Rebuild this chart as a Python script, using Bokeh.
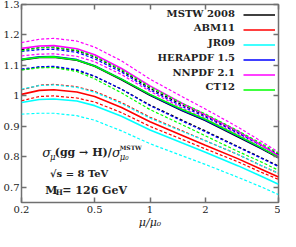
from bokeh.plotting import figure
from bokeh.models import (Label, Legend, LegendItem, FixedTicker, LinearAxis, LogAxis,
                          Range1d)
from bokeh.embed import file_html
from bokeh.resources import INLINE

# ---------------- data ----------------
mu = [0.2, 0.25, 0.3, 0.4, 0.5, 0.7, 1.0, 1.5, 2.0, 3.0, 4.0, 5.0]

mstw_c  = [1.118, 1.126, 1.127, 1.117, 1.097, 1.053, 1.002, 0.951, 0.919, 0.866, 0.828, 0.797]
mstw_up = [1.152, 1.158, 1.158, 1.148, 1.128, 1.083, 1.025, 0.970, 0.935, 0.881, 0.840, 0.808]
mstw_dn = [1.086, 1.094, 1.095, 1.084, 1.064, 1.022, 0.970, 0.920, 0.885, 0.834, 0.798, 0.770]

abm_c  = [1.005, 1.018, 1.020, 1.013, 0.998, 0.962, 0.915, 0.870, 0.838, 0.794, 0.760, 0.734]
abm_up = [1.020, 1.035, 1.038, 1.030, 1.015, 0.978, 0.930, 0.885, 0.853, 0.808, 0.772, 0.746]
abm_dn = [0.984, 0.998, 1.000, 0.993, 0.980, 0.945, 0.900, 0.857, 0.826, 0.784, 0.750, 0.726]

jr_c  = [0.978, 0.988, 0.990, 0.983, 0.968, 0.933, 0.888, 0.845, 0.815, 0.771, 0.737, 0.710]
jr_up = [1.022, 1.034, 1.036, 1.028, 1.012, 0.975, 0.927, 0.883, 0.853, 0.808, 0.772, 0.746]
jr_dn = [0.940, 0.943, 0.943, 0.935, 0.920, 0.885, 0.843, 0.803, 0.775, 0.733, 0.702, 0.676]

hera_c  = [1.120, 1.128, 1.129, 1.119, 1.099, 1.055, 1.004, 0.953, 0.921, 0.868, 0.830, 0.799]
hera_up = [1.146, 1.152, 1.153, 1.143, 1.122, 1.078, 1.020, 0.965, 0.931, 0.878, 0.838, 0.806]
hera_dn = [1.088, 1.096, 1.097, 1.086, 1.065, 1.022, 0.968, 0.917, 0.882, 0.832, 0.796, 0.768]

nn_c  = [1.156, 1.164, 1.165, 1.155, 1.135, 1.090, 1.033, 0.975, 0.938, 0.884, 0.840, 0.803]
nn_up = [1.175, 1.186, 1.189, 1.180, 1.160, 1.115, 1.055, 0.997, 0.957, 0.898, 0.852, 0.815]
nn_dn = [1.131, 1.137, 1.138, 1.130, 1.112, 1.070, 1.015, 0.960, 0.925, 0.874, 0.832, 0.797]

ct_c  = [1.120, 1.127, 1.128, 1.118, 1.098, 1.055, 1.005, 0.955, 0.923, 0.870, 0.831, 0.799]
ct_up = [1.148, 1.158, 1.160, 1.150, 1.130, 1.086, 1.030, 0.975, 0.941, 0.886, 0.845, 0.811]
ct_dn = [1.085, 1.092, 1.093, 1.080, 1.056, 1.010, 0.955, 0.905, 0.869, 0.818, 0.784, 0.756]

names  = ["MSTW 2008", "ABM11", "JR09", "HERAPDF 1.5", "NNPDF 2.1", "CT12"]
colors = ["#000000", "#ff0000", "#00ffff", "#0000ff", "#ff00ff", "#00ff00"]
series = [(mstw_c, mstw_up, mstw_dn), (abm_c, abm_up, abm_dn), (jr_c, jr_up, jr_dn),
          (hera_c, hera_up, hera_dn), (nn_c, nn_up, nn_dn), (ct_c, ct_up, ct_dn)]

x_ticks = [0.2, 0.5, 1, 2, 5]
x_tick_labels = ["0.2", "0.5", "1", "2", "5"]
y_ticks = [0.7, 0.8, 0.9, 1.0, 1.1, 1.2, 1.3]
y_tick_labels = ["0.7", "0.8", "0.9", "1", "1.1", "1.2", "1.3"]

# ---------------- figure ----------------
GRAY = "#707070"
SERIF = "DejaVu Serif"
TXT = "#222222"

p = figure(width=280, height=231, x_axis_type="log", output_backend="svg",
           toolbar_location=None, x_range=Range1d(0.2, 5), y_range=Range1d(0.65, 1.3),
           min_border_left=0, min_border_right=2, min_border_top=4, min_border_bottom=0)
p.grid.visible = False
p.background_fill_color = "white"
p.border_fill_color = "white"
p.outline_line_color = GRAY
p.outline_line_width = 1.5

def style_axis(ax, ticks, labels_map, show_labels):
    ax.ticker = FixedTicker(ticks=ticks, minor_ticks=[])
    ax.axis_line_color = None
    ax.major_tick_in = 5
    ax.major_tick_out = 0
    ax.major_tick_line_color = GRAY
    ax.major_tick_line_width = 1.5
    ax.minor_tick_line_color = None
    ax.major_label_text_font = SERIF
    ax.major_label_text_font_size = "10px"
    ax.major_label_text_color = TXT
    ax.major_label_standoff = 2
    if show_labels:
        ax.major_label_overrides = labels_map
    else:
        ax.major_label_text_color = None
        ax.major_label_text_font_size = "1px"
        ax.major_label_standoff = 0

xmap = {t: l for t, l in zip(x_ticks, x_tick_labels)}
ymap = {t: l for t, l in zip(y_ticks, y_tick_labels)}
style_axis(p.xaxis[0], x_ticks, xmap, True)
style_axis(p.yaxis[0], y_ticks, ymap, True)
xa = p.xaxis[0]
xa.major_label_standoff = 3
xa.axis_label = "μ/μ₀"
xa.axis_label_text_font = SERIF
xa.axis_label_text_font_style = "italic"
xa.axis_label_text_font_size = "11px"
xa.axis_label_standoff = 0
xa.axis_label_text_color = TXT

top = LogAxis()
right = LinearAxis()
style_axis(top, x_ticks, xmap, False)
style_axis(right, y_ticks, ymap, False)
p.add_layout(top, "above")
p.add_layout(right, "right")

solid_renderers = []
for (c, up, dn), col in zip(series, colors):
    p.line(mu, up, line_color=col, line_width=1.2, line_dash="3 2")
    p.line(mu, dn, line_color=col, line_width=1.2, line_dash="3 2")
    r = p.line(mu, c, line_color=col, line_width=1.6)
    solid_renderers.append(r)

legend = Legend(items=[LegendItem(label=" ", renderers=[r]) for r in solid_renderers],
                location="top_right", glyph_width=32, glyph_height=15, label_height=15,
                label_width=0, label_standoff=0, spacing=0, padding=0, margin=3,
                label_text_font_size="1px", label_text_color=None,
                background_fill_alpha=0, border_line_color=None)
p.add_layout(legend)

def rx(px):
    return 0.2 * 25 ** ((px - 21) / 271)

def ry(py):
    return 1.3 - (py - 5) / 325

def lab(px, py, txt, size, style="normal", align="left"):
    p.add_layout(Label(x=rx(px), y=ry(py), text=txt, text_align=align,
                       text_baseline="middle", text_font=SERIF, text_font_style=style,
                       text_font_size=size, text_color=TXT))

leg_y = [14.5, 30, 46, 61.5, 77.5, 93]
for nm, yy in zip(names, leg_y):
    lab(246, yy, nm, "10px", "bold", "right")

lab(43, 163, "σ", "13px", "italic")
lab(51, 167.5, "μ", "8.5px", "italic")
lab(56, 163, "(gg → H)/", "11px", "bold")
lab(116.5, 163, "σ", "13px", "italic")
lab(124.5, 167.5, "μ₀", "8.5px", "italic")
lab(124.5, 157.5, "MSTW", "6px", "bold")

lab(51, 185, "√s = 8 TeV", "10px", "bold")
lab(46, 203, "M", "11px", "bold")
lab(57, 206, "H", "7.5px", "bold")
lab(64, 203, "= 126 GeV", "11px", "bold")

open("out.html", "w").write(file_html(p, INLINE))
